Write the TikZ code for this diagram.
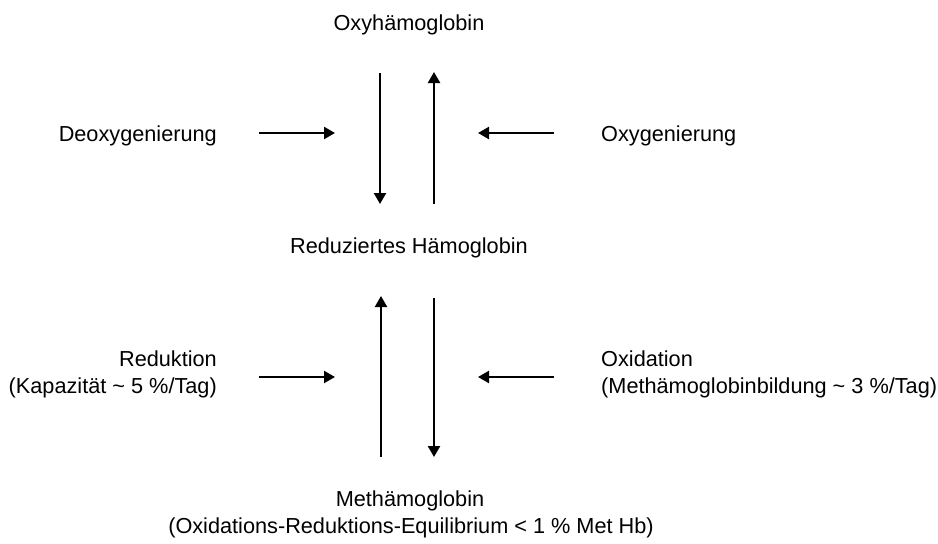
\documentclass[tikz,border=0pt]{standalone}
\usepackage{fontspec}
\setmainfont{Liberation Sans}
\usetikzlibrary{arrows.meta}
\begin{document}
\begin{tikzpicture}[x=1pt,y=-1pt,
  lbl/.style={inner sep=0pt,font=\fontsize{21.7pt}{27pt}\selectfont},
  arr/.style={line width=2.3pt,-{Triangle[length=11pt,width=12pt]}}]
\useasboundingbox[fill=white] (0,0) rectangle (938,544);
% texts
\node[lbl,anchor=base] (oxy) at (409,30) {Oxyhämoglobin};
\node[lbl,anchor=base east] (deoxy) at (217,141) {Deoxygenierung};
\node[lbl,anchor=base west] (oxygen) at (601,141) {Oxygenierung};
\node[lbl,anchor=base] (red) at (409,253) {Reduziertes Hämoglobin};
\node[lbl,anchor=base east] (reduk) at (217,366) {Reduktion};
\node[lbl,anchor=base east] (kapaz) at (217,393) {(Kapazität \textasciitilde{} 5 \%/Tag)};
\node[lbl,anchor=base west] (oxid) at (601,366) {Oxidation};
\node[lbl,anchor=base west] (metbild) at (601,393) {(Methämoglobinbildung \textasciitilde{} 3 \%/Tag)};
\node[lbl,anchor=base] (met) at (410,506) {Methämoglobin};
\node[lbl,anchor=base] (equi) at (411,533) {(Oxidations-Reduktions-Equilibrium < 1 \% Met Hb)};
% arrow end points
\coordinate (a1s) at (380,73);  \coordinate (a1e) at (380,204);
\coordinate (a2s) at (434,204); \coordinate (a2e) at (434,72);
\coordinate (h1s) at (259,133); \coordinate (h1e) at (335,133);
\coordinate (h2s) at (554,133); \coordinate (h2e) at (478,133);
\coordinate (b1s) at (381,457); \coordinate (b1e) at (381,296);
\coordinate (b2s) at (434,298); \coordinate (b2e) at (434,457);
\coordinate (k1s) at (259,377); \coordinate (k1e) at (335,377);
\coordinate (k2s) at (554,377); \coordinate (k2e) at (478,377);
% arrows
\draw[arr] (a1s) -- (a1e);
\draw[arr] (a2s) -- (a2e);
\draw[arr] (h1s) -- (h1e);
\draw[arr] (h2s) -- (h2e);
\draw[arr] (b1s) -- (b1e);
\draw[arr] (b2s) -- (b2e);
\draw[arr] (k1s) -- (k1e);
\draw[arr] (k2s) -- (k2e);
\end{tikzpicture}
\end{document}
